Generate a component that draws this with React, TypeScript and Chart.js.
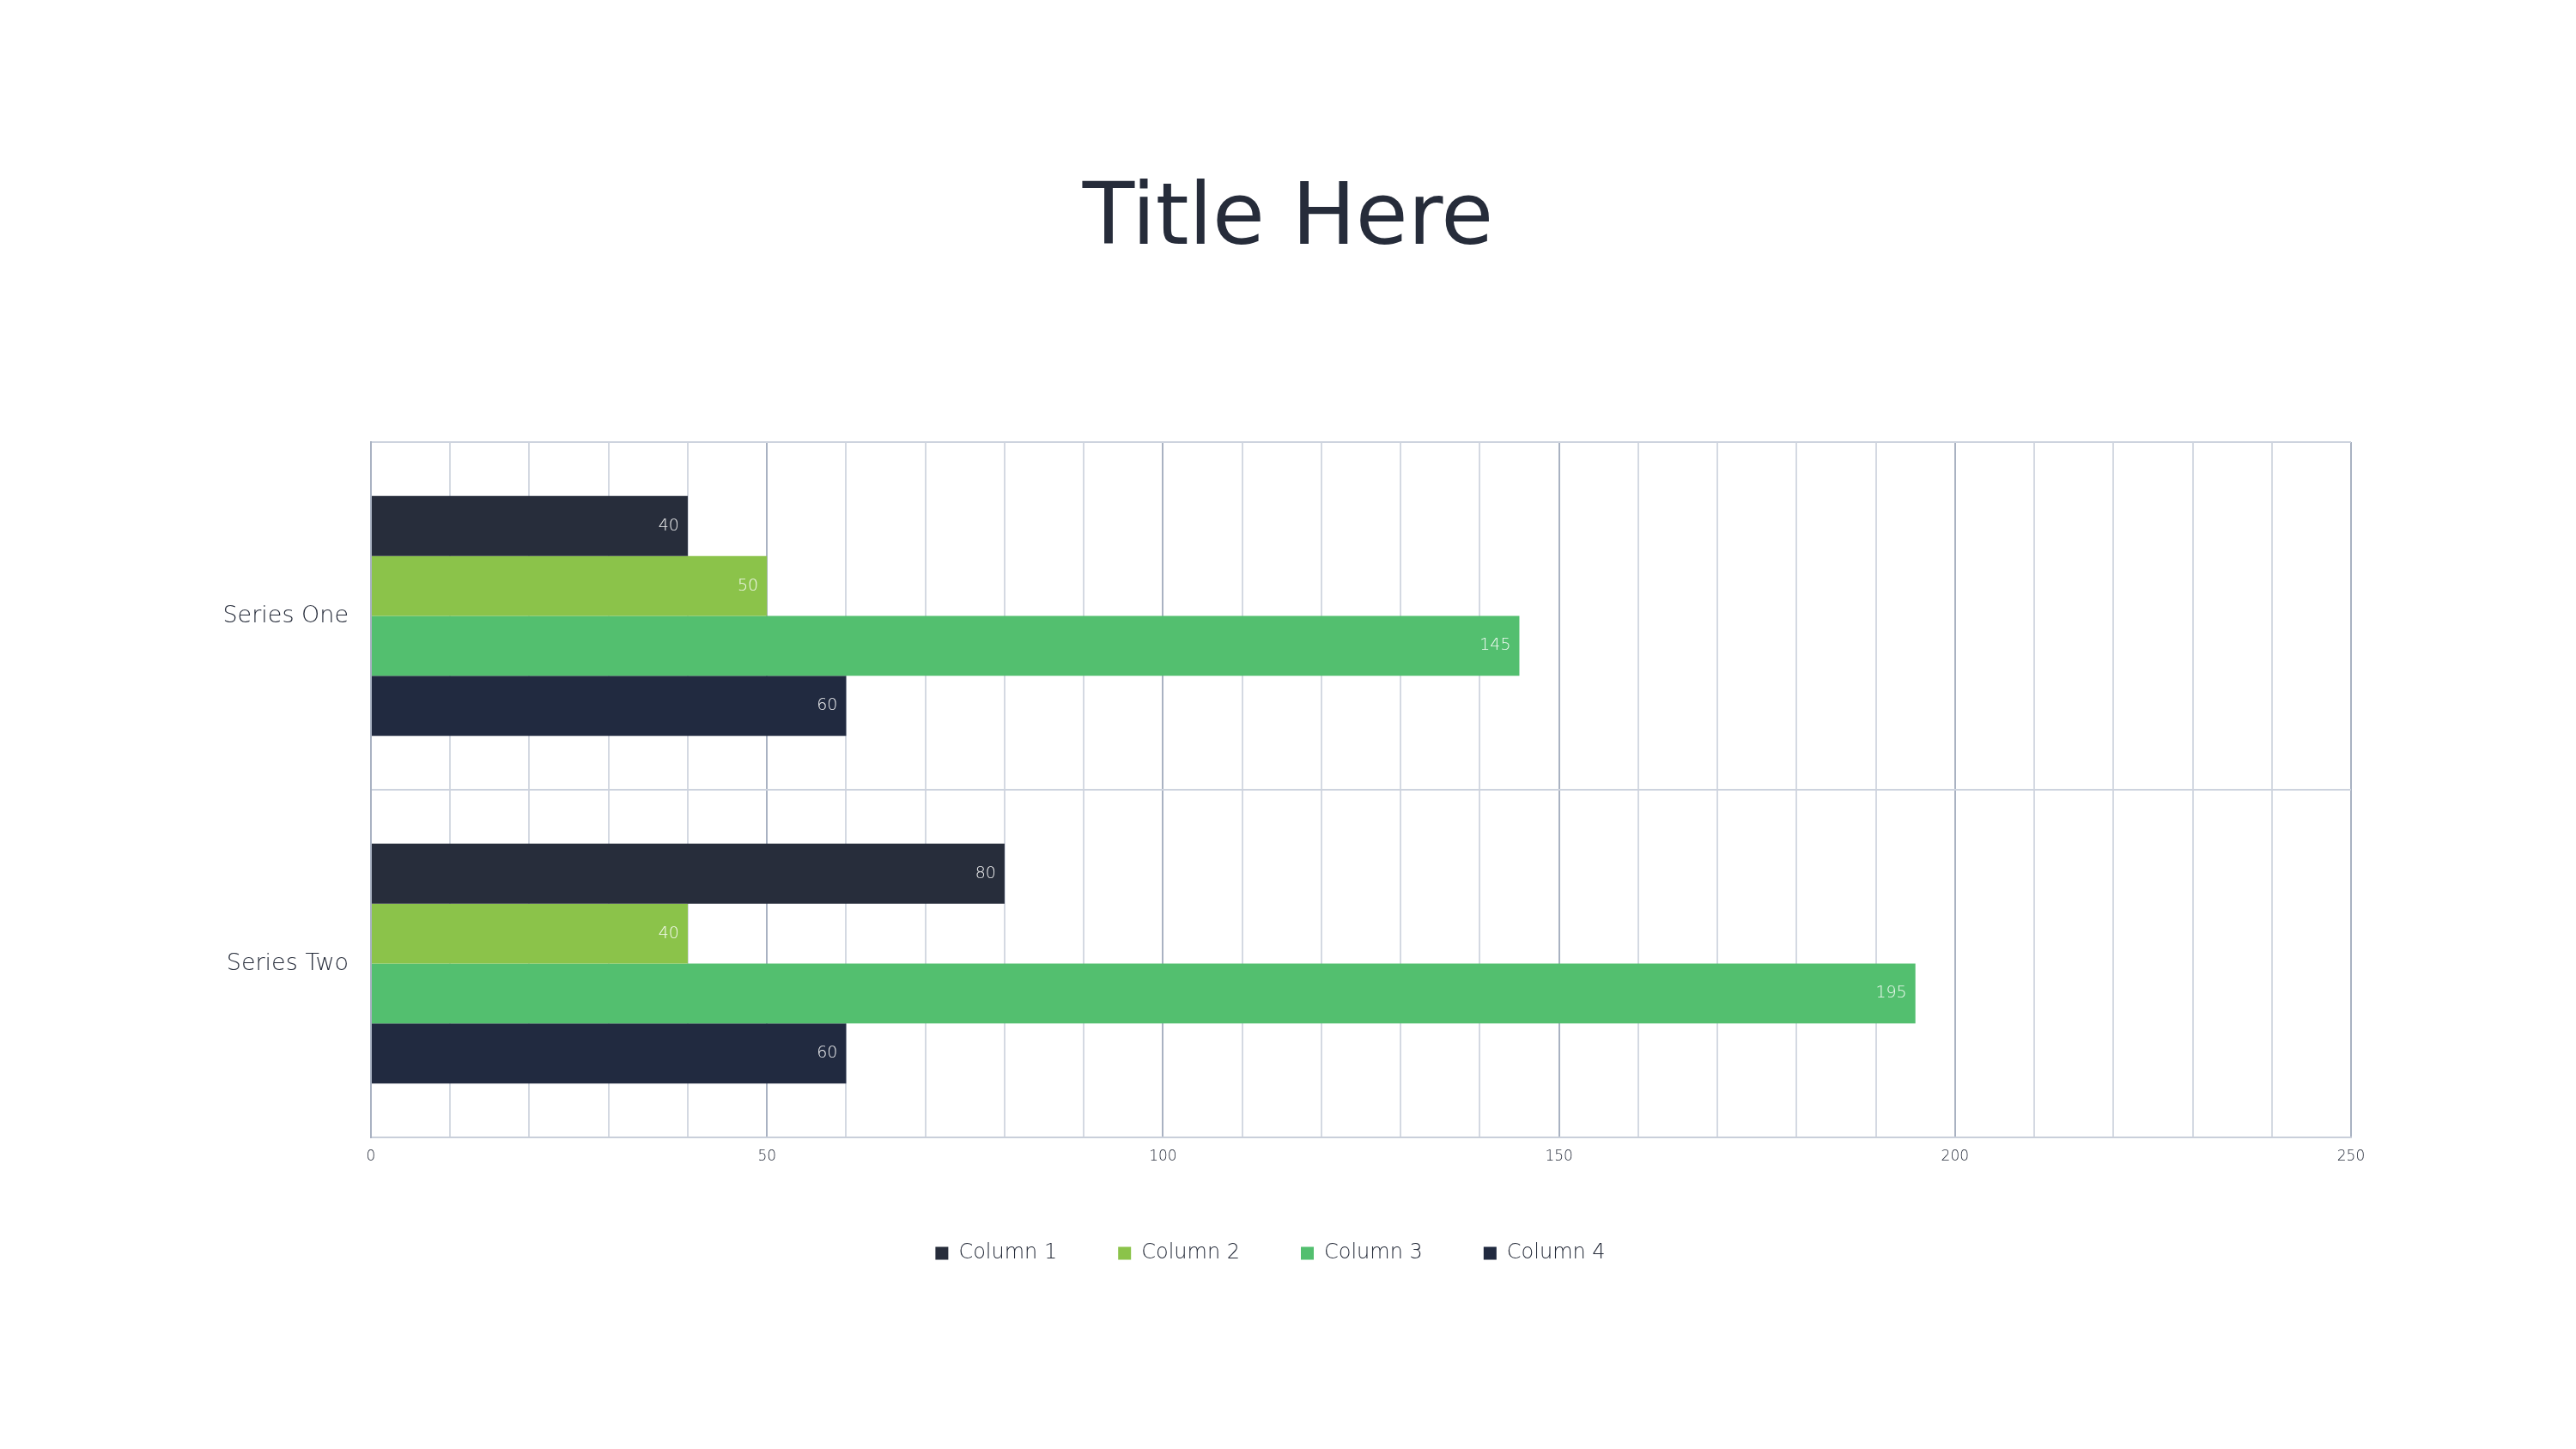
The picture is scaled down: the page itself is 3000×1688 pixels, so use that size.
import React, { useEffect, useRef } from "react";
import { Chart, registerables } from "chart.js";

Chart.register(...registerables);

const categories = ["Series One", "Series Two"];
const seriesNames = ["Column 1", "Column 2", "Column 3", "Column 4"];
const column1 = [40, 80];
const column2 = [50, 40];
const column3 = [145, 195];
const column4 = [60, 60];
const seriesColors = ["#272d3b", "#8bc34a", "#53bf6f", "#212a40"];
const titleText = "Title Here";
const xMin = 0;
const xMax = 250;
const xStep = 10;
const xLabelEvery = 50;

const FONT = "'DejaVu Sans', sans-serif";

const barLabelPlugin = {
  id: "barLabels",
  afterDatasetsDraw(chart: any) {
    const ctx = chart.ctx;
    ctx.save();
    ctx.font = `300 19px ${FONT}`;
    ctx.fillStyle = "rgba(255,255,255,0.92)";
    ctx.textAlign = "right";
    ctx.textBaseline = "middle";
    chart.data.datasets.forEach((ds: any, i: number) => {
      const meta = chart.getDatasetMeta(i);
      meta.data.forEach((bar: any, j: number) => {
        ctx.fillText(String(ds.data[j]), bar.x - 10, bar.y);
      });
    });
    ctx.restore();
  },
};

// Title centred on the whole canvas (the built-in title would centre between layout paddings)
const pageTitlePlugin = {
  id: "pageTitle",
  afterDraw(chart: any) {
    const ctx = chart.ctx;
    ctx.save();
    ctx.font = `normal 99px ${FONT}`;
    ctx.fillStyle = "#262c3a";
    ctx.textAlign = "center";
    ctx.textBaseline = "middle";
    ctx.fillText(titleText, chart.width / 2, 258);
    ctx.restore();
  },
};

export default function App() {
  const ref = useRef<HTMLCanvasElement>(null);
  useEffect(() => {
    if (!ref.current) return;
    const allData = [column1, column2, column3, column4];
    const chart = new Chart(ref.current, {
      type: "bar",
      data: {
        labels: categories,
        datasets: seriesNames.map((name, i) => ({
          label: name,
          data: allData[i],
          backgroundColor: seriesColors[i],
          borderWidth: 0,
          barPercentage: 1,
          categoryPercentage: 0.69,
        })),
      },
      options: {
        indexAxis: "y",
        responsive: true,
        maintainAspectRatio: false,
        animation: false,
        devicePixelRatio: 1,
        layout: { padding: { left: 221, right: 262, top: 515, bottom: 206 } },
        plugins: {
          title: { display: false },
          legend: {
            position: "bottom",
            labels: {
              boxWidth: 15,
              boxHeight: 15,
              padding: 71,
              color: "#262c3a",
              font: { family: FONT, size: 24, weight: "300" as any },
            },
          },
          tooltip: { enabled: false },
        },
        scales: {
          x: {
            type: "linear",
            min: xMin,
            max: xMax,
            afterFit: (s: any) => {
              s.height = 52;
            },
            ticks: {
              stepSize: xStep,
              autoSkip: false,
              maxRotation: 0,
              padding: 12,
              color: "#262c3a",
              font: { family: FONT, size: 17, weight: "300" as any },
              callback: (v: any) => (Number(v) % xLabelEvery === 0 ? String(v) : ""),
            },
            grid: {
              drawTicks: false,
              lineWidth: 2,
              color: (c: any) =>
                c.tick && c.tick.value % xLabelEvery === 0 ? "#a9b2c2" : "#d4d9e2",
            },
            border: { display: true, color: "#c9cfda", width: 2 },
          },
          y: {
            type: "category",
            afterFit: (s: any) => {
              s.width = 211;
            },
            ticks: {
              padding: 26,
              color: "#262c3a",
              font: { family: FONT, size: 27, weight: "300" as any },
            },
            grid: {
              drawTicks: false,
              offset: true,
              lineWidth: 2,
              color: "#cdd3de",
            },
            border: { display: true, color: "#a9b2c2", width: 2 },
          },
        },
      },
      plugins: [barLabelPlugin, pageTitlePlugin],
    });
    return () => chart.destroy();
  }, []);
  return (
    <div style={{ position: "fixed", left: 0, top: 0, width: 3000, height: 1688, background: "#fff" }}>
      <canvas ref={ref} />
    </div>
  );
}
